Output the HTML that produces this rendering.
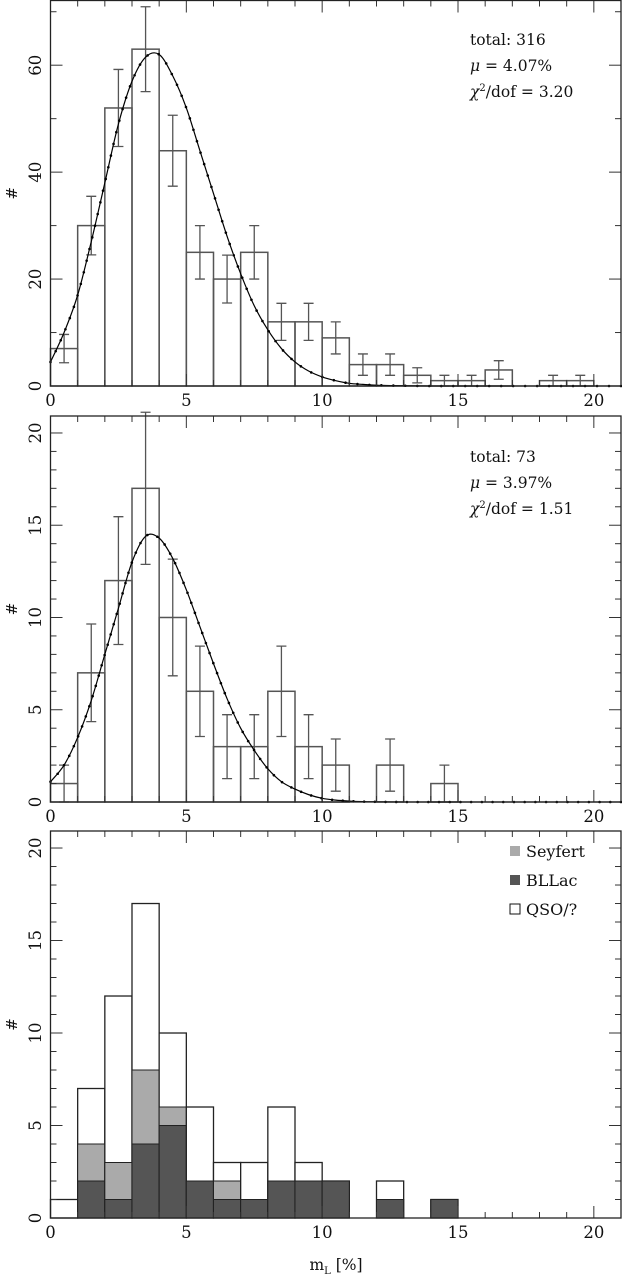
<!DOCTYPE html>
<html><head><meta charset="utf-8">
<style>
body{margin:0;background:#fff;}
svg{display:block;font-family:"DejaVu Serif","Liberation Serif",serif;}
</style></head>
<body>
<svg id="chart" width="622" height="1281" viewBox="0 0 622 1281" xmlns="http://www.w3.org/2000/svg"></svg>
<script>
// ---- data ----
const binStarts = [0,1,2,3,4,5,6,7,8,9,10,11,12,13,14,15,16,17,18,19,20];
const countsAll = [7,30,52,63,44,25,20,25,12,12,9,4,4,2,1,1,3,0,1,1,0];
const fitXAll = [0,0.5,1,1.5,2,2.5,3,3.5,4,4.5,5,5.5,6,6.5,7,7.5,8,8.5,9,9.5,10,10.5,11,11.5,12,13,14,15,16,17,18,19,20,21];
const fitAll = [4.5,10,17,27,38,49,57,61.5,62,58,52,44,36,28,21,15,10.5,7,4.5,2.8,1.7,1,0.5,0.3,0.15,0.05,0,0,0,0,0,0,0,0];
const countsSub = [1,7,12,17,10,6,3,3,6,3,2,0,2,0,1,0,0,0,0,0,0];
const fitSub = [1.1,2,3.5,5.5,8,10.5,13,14.4,14.3,13.2,11.5,9.5,7.5,5.6,4,2.8,1.8,1.1,0.7,0.4,0.2,0.1,0.05,0.02,0.01,0,0,0,0,0,0,0,0,0];
const bllac = [0,2,1,4,5,2,1,1,2,2,2,0,1,0,1,0,0,0,0,0,0];
const seyfert = [0,2,2,4,1,0,1,0,0,0,0,0,0,0,0,0,0,0,0,0,0];
const xTicks = [0,5,10,15,20];
const yTicks1 = [0,20,40,60];
const yTicks2 = [0,5,10,15,20];
const stats1 = ["total: 316","4.07%","3.20"];
const stats2 = ["total: 73","3.97%","1.51"];
const legendLabels = ["Seyfert","BLLac","QSO/?"];

const NS="http://www.w3.org/2000/svg";
const svg=document.getElementById('chart');
function mk(tag,attrs,parent){const e=document.createElementNS(NS,tag);for(const k in attrs)e.setAttribute(k,attrs[k]);(parent||svg).appendChild(e);return e;}
const X0=50.5,X1=621;
function sx(v){return X0+v*(X1-X0)/21;}

function panel(name,top,bottom,ymax,minorY,majorY,yLabels){
  const g=mk('g',{});
  
  
  const sy=v=>bottom-v*(bottom-top)/ymax;
  return {g,sy,top,bottom,minorY,majorY,yLabels,ymax};
}
function frame(p){
  const g=p.g;
  for(let i=0;i<=21;i++){
    const L=(i%5===0)?12:6;
    const t1=mk('line',{x1:sx(i),x2:sx(i),y1:p.bottom,y2:p.bottom-L,stroke:'#333','stroke-width':1},g);
    
    const t2=mk('line',{x1:sx(i),x2:sx(i),y1:p.top,y2:p.top+L,stroke:'#333','stroke-width':1},g);
    
  }
  for(let v=0;v<=p.ymax;v+=p.minorY){
    const L=(Math.abs(v%p.majorY)<1e-6)?12:6;
    const t=mk('line',{x1:X0,x2:X0+L,y1:p.sy(v),y2:p.sy(v),stroke:'#333','stroke-width':1},g);
    
    const t2=mk('line',{x1:X1,x2:X1-L,y1:p.sy(v),y2:p.sy(v),stroke:'#333','stroke-width':1},g);
    
  }
  const r=mk('rect',{x:X0,y:p.top,width:X1-X0,height:p.bottom-p.top,fill:'none',stroke:'#222','stroke-width':1.3},g);
  
  xTicks.forEach(v=>{
    const t=mk('text',{x:sx(v),y:p.bottom+20,'text-anchor':'middle','font-size':16.5,fill:'#111'},g);
    t.textContent=v;
    
  });
  p.yLabels.forEach(v=>{
    const y=p.sy(v);
    const t=mk('text',{x:0,y:0,'text-anchor':'middle','font-size':16.5,fill:'#111',transform:`translate(41,${y}) rotate(-90)`},g);
    t.textContent=v;
    
  });
  const yt=mk('text',{x:0,y:0,'text-anchor':'middle','font-size':15,fill:'#111',transform:`translate(17,${(p.top+p.bottom)/2}) rotate(-90)`},g);
  yt.textContent='#';
  
}
function hist(p,counts){
  counts.forEach((c,i)=>{
    if(c<=0)return;
    const b=mk('rect',{x:sx(binStarts[i]),y:p.sy(c),width:sx(1)-sx(0),height:p.bottom-p.sy(c),fill:'none',stroke:'#555','stroke-width':1.5},p.g);
    
    const e=Math.sqrt(c),cx=sx(binStarts[i]+0.5);
    const eb=mk('path',{d:`M${cx},${p.sy(c+e)}V${p.sy(Math.max(0,c-e))}M${cx-5},${p.sy(c+e)}h10M${cx-5},${p.sy(Math.max(0,c-e))}h10`,stroke:'#555','stroke-width':1.3,fill:'none'},p.g);
    
  });
}
function fit(p,vals){
  const pts=vals.map((v,i)=>[sx(fitXAll[i]),p.sy(v)]);
  let d='M'+pts[0][0]+','+pts[0][1];
  for(let i=0;i<pts.length-1;i++){
    const p0=pts[Math.max(0,i-1)],p1=pts[i],p2=pts[i+1],p3=pts[Math.min(pts.length-1,i+2)];
    const c1=[p1[0]+(p2[0]-p0[0])/6,p1[1]+(p2[1]-p0[1])/6];
    const c2=[p2[0]-(p3[0]-p1[0])/6,p2[1]-(p3[1]-p1[1])/6];
    d+=`C${c1[0]},${c1[1]} ${c2[0]},${c2[1]} ${p2[0]},${p2[1]}`;
  }
  const l=mk('path',{d,fill:'none',stroke:'#000','stroke-width':1.2},p.g);
  
  const len=l.getTotalLength();
  const n=84;
  for(let k=0;k<=n;k++){
    const q=l.getPointAtLength(len*k/n);
    const c=mk('circle',{cx:q.x,cy:q.y,r:1.3,fill:'#000'},p.g);
    
  }
}
function stats(p,s,y0){
  const g=p.g;
  const t1=mk('text',{x:470,y:y0,'font-size':15.5,fill:'#111'},g);t1.textContent=s[0];
  
  const t2=mk('text',{x:470,y:y0+26,'font-size':15.5,fill:'#111'},g);
  t2.innerHTML='<tspan font-style="italic">μ</tspan> = '+s[1];
  
  const t3=mk('text',{x:470,y:y0+52,'font-size':15.5,fill:'#111'},g);
  t3.innerHTML='<tspan font-style="italic">χ</tspan><tspan dy="-6" font-size="10">2</tspan><tspan dy="6">/dof = '+s[2]+'</tspan>';
  
}

const p1=panel('panel-all-sources',0.5,386,72.1,10,20,yTicks1);
hist(p1,countsAll);fit(p1,fitAll);frame(p1);stats(p1,stats1,45);

const p2=panel('panel-subsample',416,802,20.92,1,5,yTicks2);
hist(p2,countsSub);fit(p2,fitSub);frame(p2);stats(p2,stats2,462);

const p3=panel('panel-by-class',831,1218,20.92,1,5,yTicks2);
countsSub.forEach((c,i)=>{
  if(c<=0)return;
  const x=sx(binStarts[i]),w=sx(1)-sx(0);
  const tot=mk('rect',{x,y:p3.sy(c),width:w,height:p3.bottom-p3.sy(c),fill:'#fff',stroke:'#222','stroke-width':1.3},p3.g);
  
  const sb=bllac[i]+seyfert[i];
  if(sb>0){
    const s=mk('rect',{x,y:p3.sy(sb),width:w,height:p3.bottom-p3.sy(sb),fill:'#aaaaaa',stroke:'#222','stroke-width':1},p3.g);
    
  }
  if(bllac[i]>0){
    const b=mk('rect',{x,y:p3.sy(bllac[i]),width:w,height:p3.bottom-p3.sy(bllac[i]),fill:'#555555',stroke:'#222','stroke-width':1},p3.g);
    
  }
});
frame(p3);
const legFill=['#aaaaaa','#555555','#fff'];
legendLabels.forEach((lab,i)=>{
  const y=857+i*29;
  const r=mk('rect',{x:510,y:y-11,width:10,height:10,fill:legFill[i],stroke:i==2?'#111':'none','stroke-width':1},p3.g);
  
  const t=mk('text',{x:526,y:y,'font-size':16,fill:'#111'},p3.g);
  t.textContent=lab;
  
});
const xt=mk('text',{x:336,y:1270,'text-anchor':'middle','font-size':15.5,fill:'#111'});
xt.innerHTML='m<tspan dy="4" font-size="10">L</tspan><tspan dy="-4"> [%]</tspan>';


</script>
</body></html>
